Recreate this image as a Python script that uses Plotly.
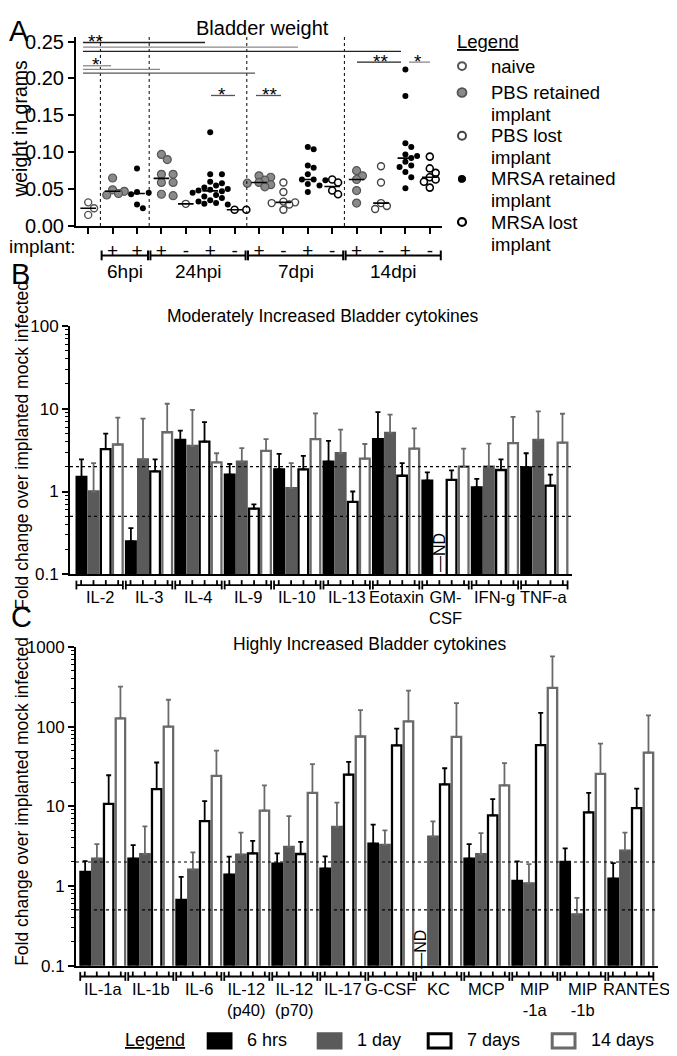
import numpy as np
import plotly.graph_objects as go

W, H = 677, 1056
FONT = "Liberation Sans, Arial, sans-serif"

# ---------------- Panel A : bladder weight (grams) ----------------
a_implant = ["", "+", "+", "+", "-", "+", "-", "+", "-", "+", "-", "+", "-", "+", "-"]
a_kind = ["naive", "pbs_ret", "mrsa_ret",
          "pbs_ret", "pbs_lost", "mrsa_ret", "mrsa_lost",
          "pbs_ret", "pbs_lost", "mrsa_ret", "mrsa_lost",
          "pbs_ret", "pbs_lost", "mrsa_ret", "mrsa_lost"]
a_naive = [0.032, 0.024, 0.015]
a_6h_pbs_ret = [0.065, 0.049, 0.047, 0.044, 0.042]
a_6h_mrsa_ret = [0.078, 0.046, 0.045, 0.043, 0.029, 0.024]
a_24h_pbs_ret = [0.097, 0.090, 0.070, 0.070, 0.059, 0.059, 0.043, 0.041]
a_24h_pbs_lost = [0.030]
a_24h_mrsa_ret = [0.127, 0.070, 0.070, 0.060, 0.058, 0.055, 0.052, 0.050, 0.049, 0.048,
                  0.047, 0.045, 0.042, 0.040, 0.038, 0.035, 0.033, 0.031, 0.030, 0.029]
a_24h_mrsa_lost = [0.022, 0.022]
a_7d_pbs_ret = [0.068, 0.066, 0.062, 0.059, 0.058, 0.056, 0.053]
a_7d_pbs_lost = [0.059, 0.046, 0.033, 0.032, 0.031, 0.029, 0.022]
a_7d_mrsa_ret = [0.107, 0.104, 0.082, 0.079, 0.070, 0.063, 0.063, 0.062, 0.057, 0.055, 0.046]
a_7d_mrsa_lost = [0.063, 0.059, 0.048, 0.043]
a_14d_pbs_ret = [0.075, 0.068, 0.063, 0.048, 0.031]
a_14d_pbs_lost = [0.081, 0.059, 0.031, 0.027, 0.023]
a_14d_mrsa_ret = [0.212, 0.176, 0.112, 0.107, 0.097, 0.095, 0.092, 0.087, 0.082, 0.080,
                  0.073, 0.066, 0.051]
a_14d_mrsa_lost = [0.094, 0.078, 0.072, 0.066, 0.063, 0.060, 0.052]
a_columns = [a_naive, a_6h_pbs_ret, a_6h_mrsa_ret,
             a_24h_pbs_ret, a_24h_pbs_lost, a_24h_mrsa_ret, a_24h_mrsa_lost,
             a_7d_pbs_ret, a_7d_pbs_lost, a_7d_mrsa_ret, a_7d_mrsa_lost,
             a_14d_pbs_ret, a_14d_pbs_lost, a_14d_mrsa_ret, a_14d_mrsa_lost]
a_timepoints = ["6hpi", "24hpi", "7dpi", "14dpi"]
a_timepoint_cols = [[1, 2], [3, 4, 5, 6], [7, 8, 9, 10], [11, 12, 13, 14]]
a_legend = [("naive", ["naive"]), ("pbs_ret", ["PBS retained", "implant"]),
            ("pbs_lost", ["PBS lost", "implant"]), ("mrsa_ret", ["MRSA retained", "implant"]),
            ("mrsa_lost", ["MRSA lost", "implant"])]

# ---------------- Panel B : moderately increased cytokines ----------------
b_cats = ["IL-2", "IL-3", "IL-4", "IL-9", "IL-10", "IL-13", "Eotaxin", "GM-<br>CSF", "IFN-g", "TNF-a"]
b_6h = [1.5, 0.25, 4.2, 1.6, 1.85, 2.3, 4.3, 1.35, 1.12, 1.95]
b_6h_err = [0.95, 0.11, 1.25, 0.55, 1.0, 1.8, 4.8, 0.35, 0.3, 0.95]
b_1d = [1.0, 2.45, 3.55, 2.3, 1.1, 2.9, 5.1, None, 2.0, 4.2]
b_1d_err = [1.2, 5.15, 6.15, 1.05, 1.1, 2.7, 3.4, 0, 1.8, 5.1]
b_7d = [3.25, 1.75, 4.0, 0.62, 1.85, 0.75, 1.55, 1.38, 1.82, 1.18]
b_7d_err = [1.75, 0.7, 2.9, 0.08, 0.85, 0.25, 0.65, 0.42, 0.63, 0.42]
b_14d = [3.7, 5.2, 2.25, 3.1, 4.3, 2.5, 3.3, 2.0, 3.85, 3.9]
b_14d_err = [4.1, 6.3, 0.65, 1.2, 4.5, 1.25, 2.5, 1.3, 4.15, 4.8]
b_nd = [("GM-<br>CSF", 1)]

# ---------------- Panel C : highly increased cytokines ----------------
c_cats = ["IL-1a", "IL-1b", "IL-6", "IL-12<br>(p40)", "IL-12<br>(p70)", "IL-17", "G-CSF", "KC",
          "MCP", "MIP<br>-1a", "MIP<br>-1b", "RANTES"]
c_6h = [1.5, 2.2, 0.67, 1.39, 1.9, 1.65, 3.4, None, 2.2, 1.16, 2.0, 1.24]
c_6h_err = [0.55, 1.05, 0.63, 0.95, 0.67, 0.7, 2.5, 0, 1.15, 0.87, 0.96, 0.7]
c_1d = [2.2, 2.5, 1.6, 2.47, 3.1, 5.5, 3.28, 4.16, 2.5, 1.08, 0.44, 2.77]
c_1d_err = [1.15, 3.1, 1.04, 2.2, 4.4, 5.6, 1.7, 2.3, 2.1, 0.8, 0.27, 1.9]
c_7d = [10.7, 16.4, 6.5, 2.57, 2.52, 25, 58, 18.8, 7.7, 58.5, 8.4, 9.45]
c_7d_err = [13.8, 19, 5.1, 1.1, 1.05, 11, 36, 11.2, 4.6, 90, 6.3, 7.2]
c_14d = [127, 100, 24, 8.8, 14.7, 75, 116, 74, 18.3, 305, 25.5, 47]
c_14d_err = [189, 117, 26, 9.5, 19, 86, 167, 123, 16.4, 455, 35.5, 91]
c_nd = [("KC", 0)]

series_names = ["6 hrs", "1 day", "7 days", "14 days"]
fold_thresholds = [0.5, 2]

# ---------------- styles ----------------
GRAY_FILL = "#5a5a5a"
GRAY_LINE = "#6a6a6a"
bar_styles = [
    dict(fill="black", line="black", err="black"),
    dict(fill=GRAY_FILL, line=GRAY_FILL, err=GRAY_LINE),
    dict(fill="white", line="black", err="black"),
    dict(fill="white", line=GRAY_LINE, err=GRAY_LINE),
]
kind_style = {
    "naive": dict(color="white", line=dict(color="#555", width=1.4), size=7),
    "pbs_ret": dict(color="#8a8a8a", line=dict(color="#555", width=1.2), size=8),
    "pbs_lost": dict(color="white", line=dict(color="#444", width=1.4), size=7),
    "mrsa_ret": dict(color="black", line=dict(color="black", width=0), size=6),
    "mrsa_lost": dict(color="white", line=dict(color="black", width=1.6), size=7),
}


def px2x(p):
    return p / W


def py2y(p):
    return 1 - p / H


fig = go.Figure()
shapes = []
annots = []

# ================= Panel A =================
A_X0, A_X1, A_YB, A_YT = 68, 434, 213, 20
A_RANGE_X = [-0.5, 14.5]
A_RANGE_Y = [0, 0.25 * (A_YB - A_YT) / (A_YB - 25)]
ppu_x = (A_X1 - A_X0) / (A_RANGE_X[1] - A_RANGE_X[0])
ppu_y = (A_YB - A_YT) / (A_RANGE_Y[1] - A_RANGE_Y[0])


def swarm(vals, d=6.2, step=0.24):
    vals = np.asarray(vals, dtype=float)
    order = np.argsort(-vals, kind="stable")
    placed = []
    offs = np.zeros(len(vals))
    for i in order:
        y = vals[i] * ppu_y
        chosen = 0.0
        for k in [0, 1, -1, 2, -2, 3, -3, 4, -4]:
            ox = k * step
            if all(((ox - qx) * ppu_x) ** 2 + (y - qy) ** 2 >= d * d for qx, qy in placed):
                chosen = ox
                break
        offs[i] = chosen
        placed.append((chosen, y))
    return offs


for kind in ["naive", "pbs_ret", "pbs_lost", "mrsa_ret", "mrsa_lost"]:
    xs, ys = [], []
    for i, (k, vals) in enumerate(zip(a_kind, a_columns)):
        if k != kind:
            continue
        offs = swarm(vals)
        xs += list(i + offs)
        ys += list(vals)
    st = kind_style[kind]
    fig.add_trace(go.Scatter(x=xs, y=ys, mode="markers", xaxis="x", yaxis="y",
                             marker=dict(symbol="circle", size=st["size"], color=st["color"],
                                         line=st["line"]), hoverinfo="skip"))

# medians
mx, my = [], []
for i, vals in enumerate(a_columns):
    m = float(np.median(vals))
    mx += [i - 0.32, i + 0.32, None]
    my += [m, m, None]
fig.add_trace(go.Scatter(x=mx, y=my, mode="lines", line=dict(color="black", width=1.6),
                         xaxis="x", yaxis="y", hoverinfo="skip"))

# dotted separators
for cols in a_timepoint_cols:
    xsep = cols[0] - 0.5
    shapes.append(dict(type="line", xref="x", yref="y", x0=xsep, x1=xsep, y0=0, y1=A_RANGE_Y[1],
                       line=dict(color="black", width=1, dash="dot")))

# significance bars (pixel layout of the annotation lines)
sig = [
    (75, 197, 26, "#222", "**", 88),
    (75, 290, 30.7, "#8a8a8a", None, None),
    (75, 393, 35, "#222", None, None),
    (75, 103, 49.7, "#8a8a8a", "*", 88),
    (75, 152, 53.3, "#8a8a8a", None, None),
    (75, 247, 57.3, "#555", None, None),
    (203, 227, 80, "#555", "*", 214),
    (248, 273, 80, "#555", "**", 261),
    (349, 393, 46, "#222", "**", 372),
    (401, 422, 46, "#8a8a8a", "*", 410),
]
for x0, x1, yy, col, star, sx in sig:
    shapes.append(dict(type="line", xref="paper", yref="paper", x0=px2x(x0), x1=px2x(x1),
                       y0=py2y(yy), y1=py2y(yy), line=dict(color=col, width=1.3)))
    if star:
        annots.append(dict(x=px2x(sx), y=py2y(yy - 1), xref="paper", yref="paper", text=star,
                           showarrow=False, xanchor="center", yanchor="middle",
                           font=dict(size=19, color="black")))

# timepoint brackets
BR_Y = 243
for name, cols in zip(a_timepoints, a_timepoint_cols):
    x0 = A_X0 + (cols[0] - 0.45 - A_RANGE_X[0]) * ppu_x
    x1 = A_X0 + (cols[-1] + 0.45 - A_RANGE_X[0]) * ppu_x
    shapes.append(dict(type="line", xref="paper", yref="paper", x0=px2x(x0), x1=px2x(x1),
                       y0=py2y(BR_Y), y1=py2y(BR_Y), line=dict(color="black", width=2)))
    for xe in (x0, x1):
        shapes.append(dict(type="line", xref="paper", yref="paper", x0=px2x(xe), x1=px2x(xe),
                           y0=py2y(BR_Y - 5), y1=py2y(BR_Y + 5), line=dict(color="black", width=2)))
    annots.append(dict(x=(cols[0] + cols[-1]) / 2, xref="x", y=py2y(259), yref="paper", text=name,
                       showarrow=False, xanchor="center", yanchor="middle", font=dict(size=19),
                       borderpad=0))

annots.append(dict(x=0, y=py2y(234), xref="paper", yref="paper", text="implant:", showarrow=False,
                   xanchor="left", yanchor="middle", font=dict(size=19), borderpad=0))
annots.append(dict(x=px2x(255), y=py2y(11), xref="paper", yref="paper", text="Bladder weight",
                   showarrow=False, xanchor="center", yanchor="middle", font=dict(size=20)))
annots.append(dict(x=px2x(12), y=py2y(114), xref="paper", yref="paper", text="weight in grams",
                   showarrow=False, textangle=-90, xanchor="center", yanchor="middle",
                   font=dict(size=19.5)))

# legend A
annots.append(dict(x=px2x(447), y=py2y(25), xref="paper", yref="paper", text="<u>Legend</u>",
                   showarrow=False, xanchor="left", yanchor="middle", font=dict(size=18.5)))
row_y = [[50], [77, 99], [121, 143], [165, 187], [209, 232]]
for (kind, lines), ys in zip(a_legend, row_y):
    st = kind_style[kind]
    r = st["size"] / 2 + 0.5
    cx, cy = 454, ys[0]
    shapes.append(dict(type="circle", xref="paper", yref="paper",
                       x0=px2x(cx - r), x1=px2x(cx + r), y0=py2y(cy + r), y1=py2y(cy - r),
                       fillcolor=st["color"],
                       line=dict(color=st["line"]["color"] if st["line"]["width"] > 0 else "black",
                                 width=max(st["line"]["width"], 0.5) + 0.6)))
    for t, yy in zip(lines, ys):
        annots.append(dict(x=px2x(481), y=py2y(yy), xref="paper", yref="paper", text=t,
                           showarrow=False, xanchor="left", yanchor="middle", font=dict(size=18.5)))

# ================= Panels B and C (bars) =================
def bar_panel(xa, ya, cats, vals_list, errs_list):
    n = len(cats)
    for name, vals, errs, st in zip(series_names, vals_list, errs_list, bar_styles):
        fig.add_trace(go.Bar(
            x=list(range(n)), y=vals, name=name, xaxis=xa, yaxis=ya,
            marker=dict(color=st["fill"], line=dict(color=st["line"], width=2.3)),
            error_y=dict(type="data", symmetric=False, array=errs, arrayminus=[0] * n,
                         color=st["err"], thickness=1.8, width=2.5),
            hoverinfo="skip"))


bar_panel("x2", "y2", b_cats, [b_6h, b_1d, b_7d, b_14d], [b_6h_err, b_1d_err, b_7d_err, b_14d_err])
bar_panel("x3", "y3", c_cats, [c_6h, c_1d, c_7d, c_14d], [c_6h_err, c_1d_err, c_7d_err, c_14d_err])

B_X0, B_X1, B_YB, B_YT = 62, 563.5, 568, 315
B_RANGE_X = [-0.6, 9.55]
C_X0, C_X1, C_YB, C_YT = 68, 650, 967, 642
C_RANGE_X = [-0.558, 11.566]

offsets = [(-1.5 + j) * 0.25 for j in range(4)]


def cat_decor(xa, cats, bracket_y, label_y, label_size, nd, ya, nd_y, last_shift):
    for k, c in enumerate(cats):
        shapes.append(dict(type="line", xref=xa, yref="paper", x0=k - 0.47, x1=k + 0.47,
                           y0=py2y(bracket_y), y1=py2y(bracket_y), line=dict(color="black", width=1.8)))
        for xe in (k - 0.47, k + 0.47):
            shapes.append(dict(type="line", xref=xa, yref="paper", x0=xe, x1=xe,
                               y0=py2y(bracket_y - 4.5), y1=py2y(bracket_y + 4.5),
                               line=dict(color="black", width=1.8)))
        for o in offsets:
            shapes.append(dict(type="line", xref=xa, yref="paper", x0=k + o, x1=k + o,
                               y0=py2y(bracket_y - 5), y1=py2y(bracket_y),
                               line=dict(color="black", width=1.8)))
        annots.append(dict(x=k, xref=xa, y=py2y(label_y), yref="paper", text=c, showarrow=False,
                           xanchor="center", yanchor="top", font=dict(size=label_size),
                           borderpad=0, xshift=last_shift if k == len(cats) - 1 else 0))
    for c, j in nd:
        k = cats.index(c)
        annots.append(dict(x=k + offsets[j], xref=xa, y=nd_y, yref=ya, text="—ND", showarrow=False,
                           textangle=-90, xanchor="center", yanchor="middle", font=dict(size=16)))
    for t in fold_thresholds:
        shapes.append(dict(type="line", xref=xa + " domain", yref=ya, x0=0, x1=1, y0=t, y1=t,
                           line=dict(color="black", width=1.2, dash="dot")))


cat_decor("x2", b_cats, 579, 581.5, 16.5, b_nd, "y2", -0.74, 0)
cat_decor("x3", c_cats, 978, 980.5, 16.5, c_nd, "y3", -0.79, 6)

annots.append(dict(x=px2x(315), y=py2y(305), xref="paper", yref="paper",
                   text="Moderately Increased Bladder cytokines", showarrow=False,
                   xanchor="center", yanchor="middle", font=dict(size=17.5)))
annots.append(dict(x=px2x(362), y=py2y(639), xref="paper", yref="paper",
                   text="Highly Increased Bladder cytokines", showarrow=False,
                   xanchor="center", yanchor="middle", font=dict(size=17.5)))
for yc in (437, 800):
    annots.append(dict(x=px2x(14), y=py2y(yc), xref="paper", yref="paper",
                       text="Fold change over implanted mock infected", showarrow=False,
                       textangle=-90, xanchor="center", yanchor="middle", font=dict(size=17.5)))

# panel letters
for letter, (lx, ly) in zip("ABC", [(11, 14), (12, 262), (13, 612)]):
    annots.append(dict(x=px2x(lx), y=py2y(ly), xref="paper", yref="paper", text=letter,
                       showarrow=False, xanchor="center", yanchor="middle", font=dict(size=29)))

# legend C
annots.append(dict(x=px2x(146.5), y=py2y(1043), xref="paper", yref="paper", text="<u>Legend</u>",
                   showarrow=False, xanchor="center", yanchor="middle", font=dict(size=18)))
sq_x = [199, 309, 419, 543]
for name, st, x0 in zip(series_names, bar_styles, sq_x):
    shapes.append(dict(type="rect", xref="paper", yref="paper", x0=px2x(x0 + 1.2), x1=px2x(x0 + 24),
                       y0=py2y(1051), y1=py2y(1036.5), fillcolor=st["fill"],
                       line=dict(color=st["line"], width=3)))
    annots.append(dict(x=px2x(x0 + 38), y=py2y(1043), xref="paper", yref="paper", text=name,
                       showarrow=False, xanchor="left", yanchor="middle", font=dict(size=18)))

minor_vals = [m * 10.0 ** e for e in range(-1, 3) for m in range(2, 10)]
axis_common = dict(showgrid=False, zeroline=False, showline=True, linecolor="black", linewidth=2,
                   ticks="outside", tickcolor="black", tickwidth=2, ticklen=6)

fig.update_layout(
    width=W, height=H, margin=dict(l=0, r=0, t=0, b=0),
    plot_bgcolor="white", paper_bgcolor="white", showlegend=False,
    barmode="group", bargap=0.02, bargroupgap=0.2,
    font=dict(family=FONT, color="black"),
    xaxis=dict(domain=[px2x(A_X0), px2x(A_X1)], range=A_RANGE_X, anchor="y",
               tickmode="array", tickvals=list(range(len(a_implant))), ticktext=a_implant,
               tickfont=dict(size=19), **axis_common),
    yaxis=dict(domain=[py2y(A_YB), py2y(A_YT)], range=A_RANGE_Y, anchor="x",
               tickmode="array", tickvals=[0, 0.05, 0.10, 0.15, 0.20, 0.25],
               ticktext=["0.00", "0.05", "0.10", "0.15", "0.20", "0.25"],
               tickfont=dict(size=20), **axis_common),
    xaxis2=dict(domain=[px2x(B_X0), px2x(B_X1)], range=B_RANGE_X, anchor="y2",
                showticklabels=False, showgrid=False, zeroline=False, showline=True,
                linecolor="black", linewidth=2, ticks=""),
    yaxis2=dict(type="log", domain=[py2y(B_YB), py2y(B_YT)], range=[-1, 2], anchor="x2",
                tickmode="array", tickvals=[0.1, 1, 10, 100], ticktext=["0.1", "1", "10", "100"],
                tickfont=dict(size=17),
                minor=dict(tickmode="array", tickvals=[v for v in minor_vals if v < 100],
                           ticks="outside", ticklen=3.5, tickwidth=1.3, tickcolor="black"),
                **axis_common),
    xaxis3=dict(domain=[px2x(C_X0), px2x(C_X1)], range=C_RANGE_X, anchor="y3",
                showticklabels=False, showgrid=False, zeroline=False, showline=True,
                linecolor="black", linewidth=2, ticks=""),
    yaxis3=dict(type="log", domain=[py2y(C_YB), py2y(C_YT)], range=[-1, 3], anchor="x3",
                tickmode="array", tickvals=[0.1, 1, 10, 100, 1000],
                ticktext=["0.1", "1", "10", "100", "1000"], tickfont=dict(size=17),
                minor=dict(tickmode="array", tickvals=minor_vals,
                           ticks="outside", ticklen=3.5, tickwidth=1.3, tickcolor="black"),
                **axis_common),
    shapes=shapes, annotations=annots,
)

fig.write_html("out.html")
